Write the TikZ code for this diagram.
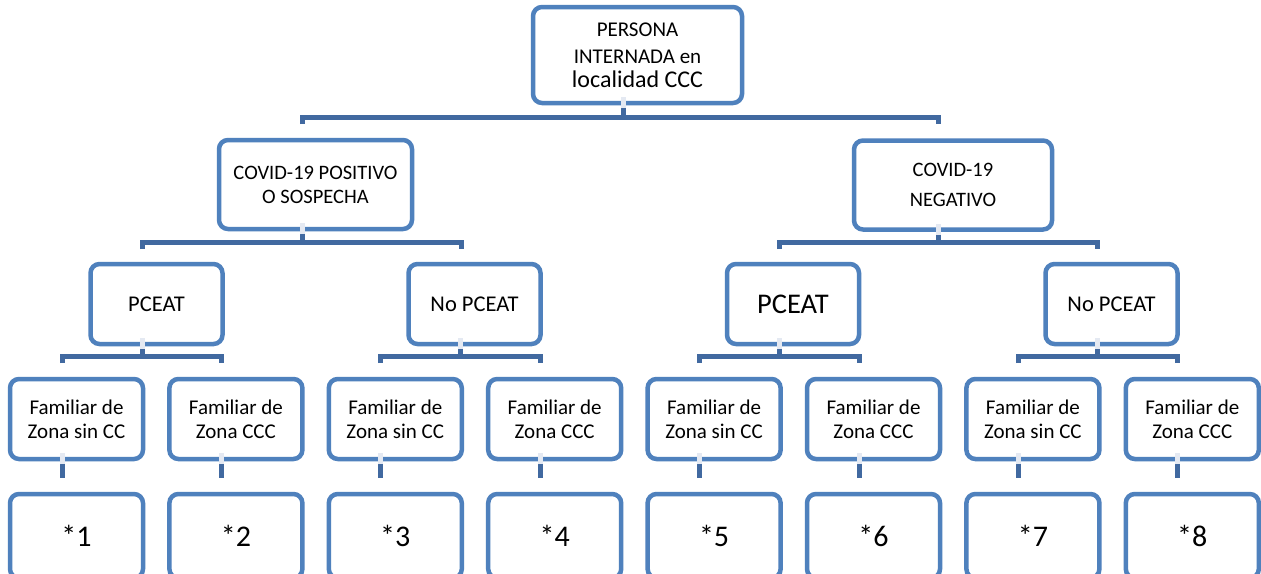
\documentclass[tikz,border=0pt]{standalone}
\usepackage{fontspec}
\setmainfont{Carlito}
\definecolor{boxblue}{HTML}{4F81BD}
\definecolor{linkblue}{HTML}{4169A0}
\definecolor{ghostblue}{HTML}{E4E9F2}
\newcommand{\fsz}[2]{\fontsize{#1}{#2}\selectfont}
\begin{document}
\begin{tikzpicture}[x=1pt,y=-1pt,
  box/.style={draw=boxblue, line width=4.5pt, rounded corners=9pt, fill=white,
    inner sep=0pt, align=center, text=black},
  lvtwo/.style={box, minimum height=89pt},
  lvthree/.style={box, minimum width=132pt, minimum height=80pt},
  famil/.style={box, minimum width=133pt, minimum height=80pt, font=\fsz{21}{24}},
  leaf/.style={box, minimum width=133pt, minimum height=84pt, font=\fsz{30}{34}},
  conn/.style={draw=linkblue, line width=5pt, line cap=butt, line join=miter},
  ghost/.style={draw=ghostblue, line width=5pt}]
\useasboundingbox[fill=white] (0,0) rectangle (1261,573);
\begin{scope}
\clip (0,0) rectangle (1261,573);
% level 1
\node[box, minimum width=209pt, minimum height=96pt, font=\fsz{21}{27}] (top) at (637.5,55)
  {PERSONA\\INTERNADA en\\[-3pt]{\fsz{24}{27}localidad CCC}};
% level 2
\node[lvtwo, minimum width=193pt, font=\fsz{20.5}{24}] (pos) at (315.5,184.5) {COVID-19 POSITIVO\\O SOSPECHA};
\node[lvtwo, minimum width=198pt, font=\fsz{20.5}{24}] (neg) at (953,185) {COVID-19\\[6pt]NEGATIVO};
% level 3
\node[lvthree, font=\fsz{22.5}{26}] (p1) at (156.5,304) {PCEAT};
\node[lvthree, font=\fsz{22.5}{26}] (p2) at (474.5,304) {No PCEAT};
\node[lvthree, font=\fsz{28.5}{32}] (p3) at (793,304) {PCEAT};
\node[lvthree, font=\fsz{22.5}{26}] (p4) at (1111.5,304) {No PCEAT};
% level 4
\node[famil] (f1) at (76.5,419) {Familiar de\\Zona sin CC};
\node[famil] (f2) at (235.9,419) {Familiar de\\Zona CCC};
\node[famil] (f3) at (395.3,419) {Familiar de\\Zona sin CC};
\node[famil] (f4) at (554.7,419) {Familiar de\\Zona CCC};
\node[famil] (f5) at (714.1,419) {Familiar de\\Zona sin CC};
\node[famil] (f6) at (873.5,419) {Familiar de\\Zona CCC};
\node[famil] (f7) at (1032.9,419) {Familiar de\\Zona sin CC};
\node[famil] (f8) at (1192.3,419) {Familiar de\\Zona CCC};
% level 5
\node[leaf] (r1) at (76.5,536) {*1};
\node[leaf] (r2) at (235.9,536) {*2};
\node[leaf] (r3) at (395.3,536) {*3};
\node[leaf] (r4) at (554.7,536) {*4};
\node[leaf] (r5) at (714.1,536) {*5};
\node[leaf] (r6) at (873.5,536) {*6};
\node[leaf] (r7) at (1032.9,536) {*7};
\node[leaf] (r8) at (1192.3,536) {*8};
% junction coordinates
\coordinate (j0) at (623,117);
\coordinate (j0l) at (302,124);
\coordinate (j0r) at (938,124);
\coordinate (jp) at (302,242);
\coordinate (jpl) at (142,249);
\coordinate (jpr) at (461,249);
\coordinate (jn) at (938,242);
\coordinate (jnl) at (779,249);
\coordinate (jnr) at (1097,249);
\coordinate (m1) at (142,356);
\coordinate (m2) at (460.5,356);
\coordinate (m3) at (779,356);
\coordinate (m4) at (1097,356);
\coordinate (a1) at (62,363);     \coordinate (b1) at (221.4,363);
\coordinate (a2) at (380.8,363);  \coordinate (b2) at (540.2,363);
\coordinate (a3) at (699.6,363);  \coordinate (b3) at (859,363);
\coordinate (a4) at (1018.4,363); \coordinate (b4) at (1177.8,363);
\coordinate (s1) at (62,478);     \coordinate (s2) at (221.4,478);
\coordinate (s3) at (380.8,478);  \coordinate (s4) at (540.2,478);
\coordinate (s5) at (699.6,478);  \coordinate (s6) at (859,478);
\coordinate (s7) at (1018.4,478); \coordinate (s8) at (1177.8,478);
% connectors
\draw[conn] (top.south -| j0) -- (j0);
\draw[conn] (j0l) |- (j0) -| (j0r);
\draw[conn] (pos.south -| jp) -- (jp);
\draw[conn] (jpl) |- (jp) -| (jpr);
\draw[conn] (neg.south -| jn) -- (jn);
\draw[conn] (jnl) |- (jn) -| (jnr);
\draw[conn] (p1.south -| m1) -- (m1);
\draw[conn] (a1) |- (m1) -| (b1);
\draw[conn] (p2.south -| m2) -- (m2);
\draw[conn] (a2) |- (m2) -| (b2);
\draw[conn] (p3.south -| m3) -- (m3);
\draw[conn] (a3) |- (m3) -| (b3);
\draw[conn] (p4.south -| m4) -- (m4);
\draw[conn] (a4) |- (m4) -| (b4);
\foreach \i in {1,...,8}{
  \draw[conn] (f\i.south -| s\i) -- (s\i);
}
% faint marks on the bottom borders
\draw[ghost] (top.south -| j0) ++(0,3) -- ++(0,-11);
\draw[ghost] (pos.south -| jp) ++(0,3) -- ++(0,-11);
\draw[ghost] (neg.south -| jn) ++(0,3) -- ++(0,-11);
\draw[ghost] (p1.south -| m1) ++(0,3) -- ++(0,-11);
\draw[ghost] (p2.south -| m2) ++(0,3) -- ++(0,-11);
\draw[ghost] (p3.south -| m3) ++(0,3) -- ++(0,-11);
\draw[ghost] (p4.south -| m4) ++(0,3) -- ++(0,-11);
\foreach \i in {1,...,8}{
  \draw[ghost] (f\i.south -| s\i) ++(0,3) -- ++(0,-11);
}
\end{scope}
\end{tikzpicture}
\end{document}
